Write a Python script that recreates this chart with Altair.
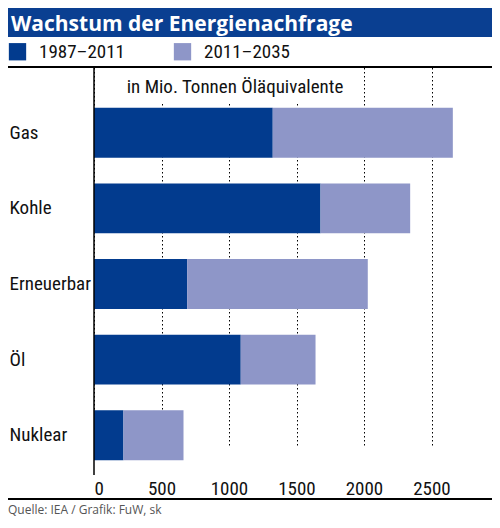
import altair as alt
import pandas as pd

categories = ["Gas", "Kohle", "Erneuerbar", "Öl", "Nuklear"]
periods = ["1987–2011", "2011–2035"]
growth_1987_2011 = [1324, 1678, 690, 1087, 218]
growth_2011_2035 = [1334, 664, 1338, 554, 445]
x_ticks = [0, 500, 1000, 1500, 2000, 2500]

DARK = "#023b8e"
LIGHT = "#8e96c8"
FONT = "Liberation Sans Narrow, Roboto Condensed, Roboto, sans-serif"

rows = []
for cat, a, b in zip(categories, growth_1987_2011, growth_2011_2035):
    rows.append({"Energie": cat, "Zeitraum": periods[0], "Wert": a, "o": 0})
    rows.append({"Energie": cat, "Zeitraum": periods[1], "Wert": b, "o": 1})
df = pd.DataFrame(rows)
one = pd.DataFrame({"k": [0]})  # single row for the decoration marks

W, H = 378, 406

bars = alt.Chart(df).mark_bar().encode(
    alt.X("Wert:Q", stack="zero", title=None,
          scale=alt.Scale(domain=[0, 2800], nice=False),
          axis=alt.Axis(values=x_ticks, format="d", grid=True, gridColor="#000",
                        gridDash=[1.5, 2.5], gridWidth=1, domain=False, ticks=False,
                        labelPadding=6, labelFontSize=19, labelColor="#111", labelFont=FONT)),
    alt.Y("Energie:N", sort=categories, title=None,
          scale=alt.Scale(range=[28, 406], paddingInner=0.34, paddingOuter=0.17),
          axis=alt.Axis(domain=False, ticks=False, grid=False, labelAlign="left",
                        labelPadding=85, labelFontSize=19, labelColor="#111", labelFont=FONT)),
    alt.Color("Zeitraum:N", scale=alt.Scale(domain=periods, range=[DARK, LIGHT]),
              legend=alt.Legend(title=None, orient="none", legendX=-86, legendY=-25,
                                direction="horizontal", symbolType="square", symbolSize=300,
                                symbolStrokeWidth=0, symbolOpacity=1, labelFontSize=19,
                                labelFont=FONT, labelColor="#111", labelOffset=12,
                                columnPadding=48, padding=0)),
    alt.Order("o:Q"),
)

# white box behind the unit note, hiding the dotted grid there
unit_box = alt.Chart(one).mark_rect(color="white").encode(
    x=alt.value(1), x2=alt.value(251), y=alt.value(1), y2=alt.value(35))
unit_text = alt.Chart(one).mark_text(
    text="in Mio. Tonnen Öläquivalente", fontSize=19, font=FONT,
    color="#111", align="center", baseline="middle").encode(x=alt.value(141), y=alt.value(20))

y_line = alt.Chart(one).mark_rule(color="#000", strokeWidth=1.5).encode(
    x=alt.value(0), y=alt.value(0), y2=alt.value(408))
top_line = alt.Chart(one).mark_rule(color="#000", strokeWidth=2).encode(
    x=alt.value(-86), x2=alt.value(398), y=alt.value(0))
bottom_line = alt.Chart(one).mark_rule(color="#000", strokeWidth=2).encode(
    x=alt.value(-86), x2=alt.value(398), y=alt.value(432))

title_band = alt.Chart(one).mark_rect(color="#0a3f91").encode(
    x=alt.value(-86), x2=alt.value(398), y=alt.value(-59), y2=alt.value(-30))
title_text = alt.Chart(one).mark_text(
    text="Wachstum der Energienachfrage", fontSize=21, fontWeight="bold",
    font="Open Sans, sans-serif", color="white", align="left", baseline="alphabetic"
).encode(x=alt.value(-83), y=alt.value(-36))

source = alt.Chart(one).mark_text(
    text="Quelle: IEA / Grafik: FuW, sk", fontSize=12, font="Open Sans, sans-serif",
    color="#555", align="left", baseline="middle"
).encode(x=alt.value(-86), y=alt.value(443))

chart = alt.layer(
    bars, unit_box, unit_text, y_line, top_line, bottom_line,
    title_band, title_text, source
).properties(
    width=W, height=H, autosize=alt.AutoSizeParams(type="none"),
    padding={"left": 86, "top": 59, "right": 20, "bottom": 47},
    background="white"
).configure_view(stroke=None)

chart.save("out.html", embed_options={"renderer": "svg", "actions": False})
